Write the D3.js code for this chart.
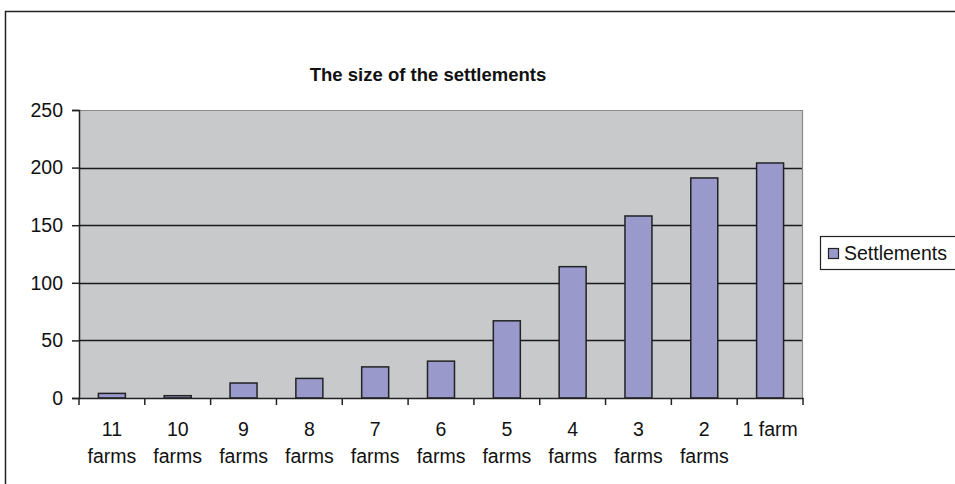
<!DOCTYPE html>
<html>
<head>
<meta charset="utf-8">
<script src="https://cdn.jsdelivr.net/npm/d3@7/dist/d3.min.js"></script>
<style>
  html, body { margin: 0; padding: 0; background: #fff; }
  svg { display: block; font-family: "Liberation Sans", Arial, sans-serif; }
</style>
</head>
<body>
<svg id="chart" width="955" height="484"></svg>
<script>
// Number of settlements by size (farms per settlement)
const categories = ["11 farms", "10 farms", "9 farms", "8 farms", "7 farms", "6 farms",
                    "5 farms", "4 farms", "3 farms", "2 farms", "1 farm"];
const settlements = [4, 2, 13, 17, 27, 32, 67, 114, 158, 191, 204];
const yTicks = [0, 50, 100, 150, 200, 250];
const seriesName = "Settlements";
const chartTitle = "The size of the settlements";

const svg = d3.select("#chart");
const plot = { left: 79, top: 110, right: 803, bottom: 398 };
const labelSize = 19.5;

// Outer chart frame
svg.append("rect")
  .attr("x", 5.5).attr("y", 11.5)
  .attr("width", 1000).attr("height", 500)
  .attr("fill", "#fff").attr("stroke", "#222").attr("stroke-width", 1.5);

// Title
svg.append("text")
  .attr("x", 428).attr("y", 81)
  .attr("text-anchor", "middle")
  .attr("font-weight", "bold")
  .attr("font-size", 18.5)
  .attr("fill", "#111")
  .text(chartTitle);

const x = d3.scaleBand().domain(categories).range([plot.left, plot.right]).paddingInner(0).paddingOuter(0);
const y = d3.scaleLinear().domain([0, 250]).range([plot.bottom, plot.top]);

// Plot background
svg.append("rect")
  .attr("x", plot.left).attr("y", plot.top)
  .attr("width", plot.right - plot.left).attr("height", plot.bottom - plot.top)
  .attr("fill", "#c8c9cb");

// Horizontal gridlines
svg.append("g").selectAll("line")
  .data(yTicks.filter(d => d > 0 && d < 250))
  .join("line")
  .attr("x1", plot.left).attr("x2", plot.right)
  .attr("y1", d => Math.round(y(d)) + 0.5).attr("y2", d => Math.round(y(d)) + 0.5)
  .attr("stroke", "#1a1a1a").attr("stroke-width", 1.3);

// Plot area top and right border
svg.append("path")
  .attr("d", `M${plot.left},${plot.top + 0.5}H${plot.right - 0.5}V${plot.bottom}`)
  .attr("fill", "none").attr("stroke", "#8a8a8a").attr("stroke-width", 1.2);

// Bars
const bw = x.bandwidth() * 0.41;
svg.append("g").selectAll("rect")
  .data(settlements)
  .join("rect")
  .attr("x", (d, i) => x(categories[i]) + (x.bandwidth() - bw) / 2)
  .attr("y", d => y(d))
  .attr("width", bw)
  .attr("height", d => y(0) - y(d))
  .attr("fill", "#9999cc")
  .attr("stroke", "#222")
  .attr("stroke-width", 1.5);

// Y axis
const yAxis = svg.append("g")
  .attr("transform", `translate(${plot.left},0)`)
  .call(d3.axisLeft(y).tickValues(yTicks).tickSize(7).tickPadding(9));
yAxis.select(".domain").attr("stroke", "#222").attr("stroke-width", 1.5);
yAxis.selectAll(".tick line").attr("stroke", "#222").attr("stroke-width", 1.5);
yAxis.selectAll(".tick text")
  .attr("font-size", labelSize).attr("fill", "#111")
  .attr("font-family", "Liberation Sans, Arial, sans-serif");

// X axis: ticks on category boundaries, wrapped labels in each band
const xAxis = svg.append("g")
  .attr("transform", `translate(0,${plot.bottom})`)
  .call(d3.axisBottom(x).tickSize(0).tickFormat(""));
xAxis.select(".domain").attr("stroke", "#222").attr("stroke-width", 1.5);

const boundaries = d3.range(categories.length + 1).map(i => plot.left + i * x.bandwidth());
xAxis.append("g").selectAll("line")
  .data(boundaries)
  .join("line")
  .attr("x1", d => d).attr("x2", d => d)
  .attr("y1", 0).attr("y2", 7)
  .attr("stroke", "#222").attr("stroke-width", 1.5);

const labels = svg.append("g")
  .attr("font-size", labelSize).attr("fill", "#111").attr("text-anchor", "middle");
categories.forEach(c => {
  const cx = x(c) + x.bandwidth() / 2;
  const t = labels.append("text").attr("x", cx).attr("y", plot.bottom + 38);
  t.text(c);
  const fits = t.node().getComputedTextLength() <= x.bandwidth() - 8;
  if (!fits) {
    const words = c.split(" ");
    t.text(null);
    t.append("tspan").attr("x", cx).attr("dy", 0).text(words[0]);
    t.append("tspan").attr("x", cx).attr("dy", 27).text(words.slice(1).join(" "));
  }
});

// Legend
const legend = svg.append("g");
legend.append("rect")
  .attr("x", 820.5).attr("y", 236.5).attr("width", 140).attr("height", 33)
  .attr("fill", "#fff").attr("stroke", "#222").attr("stroke-width", 1.2);
legend.append("rect")
  .attr("x", 828.5).attr("y", 248.5).attr("width", 10).attr("height", 10)
  .attr("fill", "#9999cc").attr("stroke", "#222").attr("stroke-width", 1.2);
legend.append("text")
  .attr("x", 844).attr("y", 260)
  .attr("font-size", labelSize).attr("fill", "#111")
  .text(seriesName);
</script>
</body>
</html>
